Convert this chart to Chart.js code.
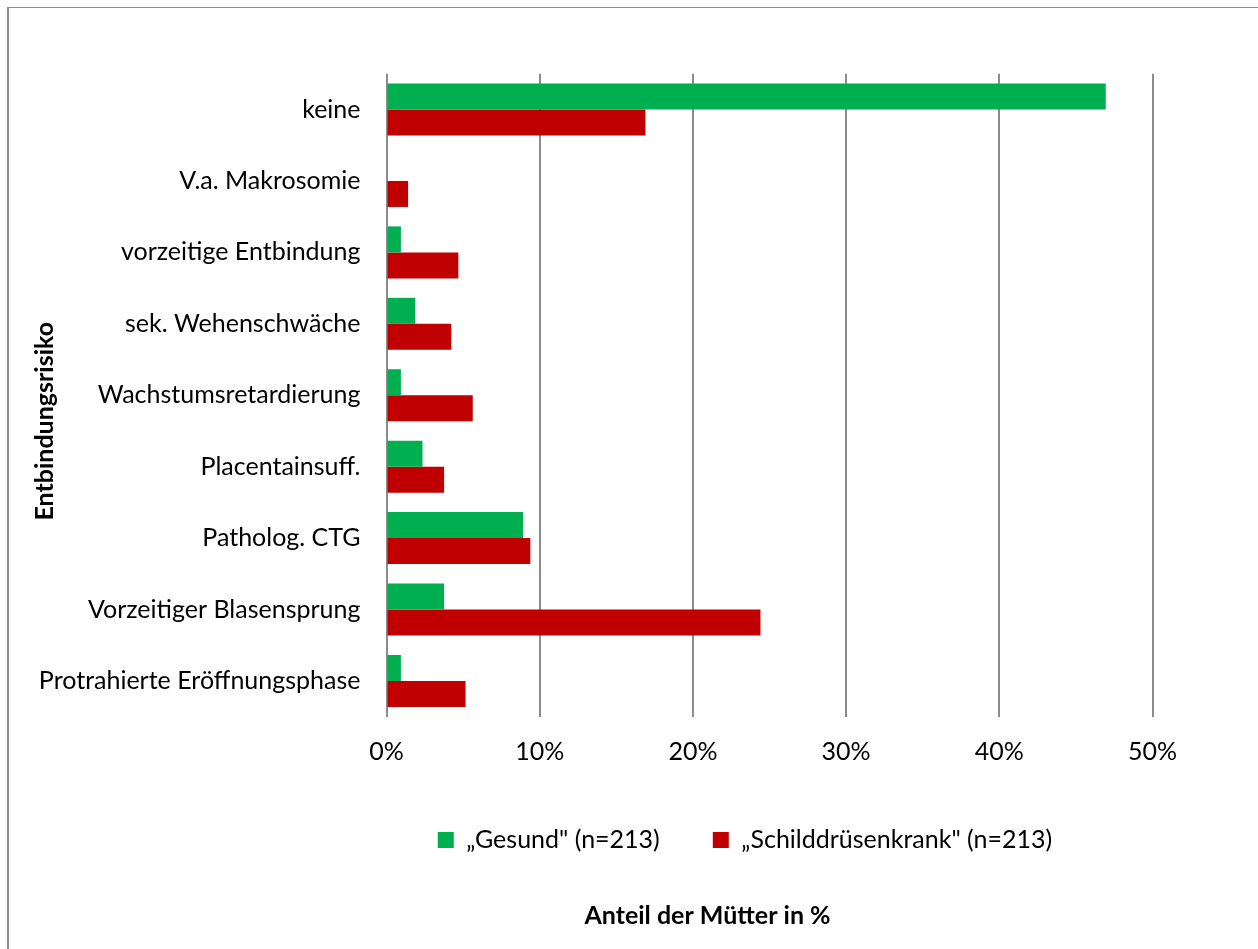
<!DOCTYPE html>
<html>
<head>
<meta charset="utf-8">
<script src="https://cdn.jsdelivr.net/npm/chart.js@4/dist/chart.umd.min.js"></script>
<style>
  html, body { margin: 0; padding: 0; background: #ffffff; }
  #wrap { position: relative; width: 1258px; height: 949px; overflow: hidden; }
  #frame { position: absolute; left: 7px; top: 7px; width: 1300px; height: 1000px;
           border-left: 2px solid #8c8c8c; border-top: 1px solid #8c8c8c; }
  #c { position: absolute; left: 0; top: 0; }
</style>
</head>
<body>
<div id="wrap">
  <div id="frame"></div>
  <canvas id="c" width="1258" height="949"></canvas>
</div>
<script>
// Entbindungsrisiko je Gruppe, Anteil der Mütter in %
const categories = [
  'keine',
  'V.a. Makrosomie',
  'vorzeitige Entbindung',
  'sek. Wehenschwäche',
  'Wachstumsretardierung',
  'Placentainsuff.',
  'Patholog. CTG',
  'Vorzeitiger Blasensprung',
  'Protrahierte Eröffnungsphase'
];
const gesund             = [46.95, 0.00, 0.94, 1.88, 0.94, 2.35, 8.92, 3.76, 0.94];
const schilddruesenkrank = [16.90, 1.41, 4.69, 4.23, 5.63, 3.76, 9.39, 24.41, 5.16];
const seriesNames = ['„Gesund" (n=213)', '„Schilddrüsenkrank" (n=213)'];
const xTickValues = [0, 10, 20, 30, 40, 50];
const xTitle = 'Anteil der Mütter in %';
const yTitle = 'Entbindungsrisiko';

const FONT = 'Lato, "Open Sans", sans-serif';
const SIZE = 25;
const GRID = '#8c8c8c';

// moves the legend, the bottom title and the y-axis title to their places
const nudge = {
  id: 'nudge',
  afterLayout(chart) {
    const lg = chart.legend;
    if (lg) { const dx = 745 - (lg.left + lg.right) / 2; lg.left += dx; lg.right += dx; }
    const tb = chart.titleBlock;
    if (tb) { const dx = 707.5 - (tb.left + tb.right) / 2; tb.left += dx; tb.right += dx; }
    const ys = chart.scales.y;
    ys.top += 26; ys.bottom += 26;
  }
};

new Chart(document.getElementById('c'), {
  type: 'bar',
  data: {
    labels: categories,
    datasets: [
      { label: seriesNames[0], data: gesund, backgroundColor: '#00b050', borderWidth: 0, clip: false },
      { label: seriesNames[1], data: schilddruesenkrank, backgroundColor: '#c00000', borderWidth: 0, clip: false }
    ]
  },
  options: {
    indexAxis: 'y',
    responsive: false,
    animation: false,
    devicePixelRatio: 1,
    categoryPercentage: 0.728,
    barPercentage: 1.0,
    layout: { padding: { top: 73.8, left: 24, right: 105.5, bottom: 18 } },
    scales: {
      x: {
        min: 0, max: 50,
        afterBuildTicks: (s) => { s.ticks = xTickValues.map(v => ({ value: v })); },
        afterFit: (s) => { s.height = 57.8; },
        ticks: {
          callback: (v) => v + '%',
          color: '#000', padding: 20,
          font: { family: FONT, size: SIZE }
        },
        grid: { color: GRID, lineWidth: 2, drawTicks: false },
        border: { display: false }
      },
      y: {
        afterFit: (s) => { s.width = 362.5; },
        ticks: { color: '#000', padding: 26, font: { family: FONT, size: SIZE } },
        grid: { display: false, drawTicks: false },
        border: { display: false },
        title: {
          display: true, text: yTitle, color: '#000',
          font: { family: FONT, size: SIZE, weight: 'bold' },
          padding: { top: 6, bottom: 0 }
        }
      }
    },
    plugins: {
      legend: {
        position: 'bottom',
        labels: {
          boxWidth: 16, boxHeight: 16, padding: 53, color: '#000',
          font: { family: FONT, size: SIZE }
        }
      },
      title: {
        display: true, position: 'bottom', text: xTitle, color: '#000',
        font: { family: FONT, size: SIZE, weight: 'bold' },
        padding: { top: 38.5, bottom: 0 }
      },
      tooltip: { enabled: false }
    }
  },
  plugins: [nudge]
});
</script>
</body>
</html>
